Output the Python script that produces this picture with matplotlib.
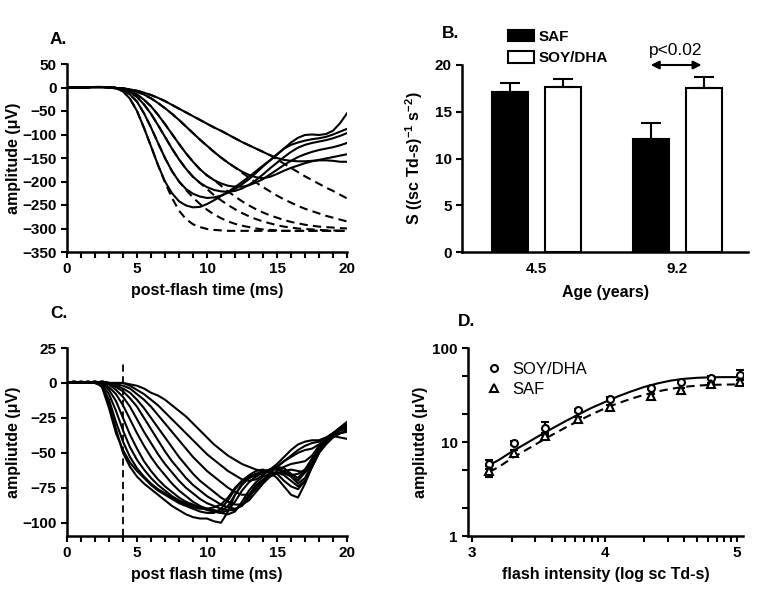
import numpy as np
import matplotlib
matplotlib.use("Agg")
import matplotlib.pyplot as plt
from matplotlib.patches import Patch
from matplotlib.lines import Line2D
from matplotlib.ticker import FixedLocator, FuncFormatter, NullFormatter

plt.rcParams['font.family'] = ['Liberation Sans', 'DejaVu Sans']
plt.rcParams['mathtext.fontset'] = 'custom'
plt.rcParams['mathtext.rm'] = 'Liberation Sans:bold'
plt.rcParams['mathtext.bf'] = 'Liberation Sans:bold'
plt.rcParams['mathtext.default'] = 'bf'

# panel A: a-wave traces (solid) and model fits (dashed)
tA = [0, 1, 2, 2.5] + list(np.arange(3.0, 20.01, 0.5))
base = [0, 0, 1, 1]
trace_A = [
    base + [0, -2, -8, -24, -50, -86, -125, -165, -200, -225, -242, -251, -255, -254, -248, -240, -231, -222, -212, -201,
            -190, -178, -166, -155, -143, -130, -117, -107, -101, -100, -101, -99, -92, -76, -55],
    base + [0, -1, -5, -15, -30, -55, -85, -118, -150, -178, -200, -216, -226, -232, -235, -234, -230, -224, -216, -206,
            -195, -182, -168, -155, -142, -130, -122, -117, -113, -110, -108, -105, -100, -94, -88],
    base + [0, -1, -4, -10, -20, -36, -56, -80, -105, -130, -153, -173, -190, -203, -212, -218, -221, -222, -220, -215,
            -207, -197, -185, -172, -160, -148, -137, -128, -122, -118, -115, -112, -108, -103, -97],
    base + [0, -1, -3, -8, -15, -26, -40, -58, -78, -99, -120, -140, -158, -174, -187, -197, -204, -209, -211, -211,
            -208, -202, -195, -185, -175, -165, -156, -148, -142, -137, -133, -130, -127, -123, -118],
    base + [0, -1, -2, -5, -9, -15, -23, -33, -44, -56, -69, -83, -97, -111, -124, -137, -149, -160, -170, -179,
            -186, -191, -193, -190, -184, -177, -171, -166, -161, -157, -154, -151, -148, -145, -142],
    base + [0, -1, -2, -4, -7, -11, -16, -22, -29, -37, -45, -53, -61, -69, -77, -85, -92, -100, -108, -116,
            -123, -130, -137, -144, -150, -154, -156, -157, -157, -156, -155, -155, -156, -158, -158],
]
model_A = [
    base + [0, -2, -8, -24, -50, -86, -125, -165, -202, -235, -262, -280, -291, -297, -301, -303, -304, -305, -305, -305,
            -305, -305, -305, -305, -305, -305, -305, -305, -305, -305, -305, -305, -305, -305, -305],
    base + [0, -1, -5, -15, -30, -55, -85, -118, -150, -178, -200, -218, -234, -248, -260, -270, -278, -285, -290, -294,
            -297, -300, -302, -303, -304, -305, -305, -305, -305, -305, -305, -305, -305, -305, -305],
    base + [0, -1, -4, -10, -20, -36, -56, -80, -105, -130, -153, -173, -190, -203, -216, -229, -240, -250, -259, -267,
            -274, -280, -285, -289, -293, -296, -298, -300, -301, -302, -303, -304, -304, -305, -305],
    base + [0, -1, -3, -8, -15, -26, -40, -58, -78, -99, -120, -140, -158, -174, -187, -197, -209, -221, -232, -242,
            -251, -259, -266, -272, -277, -282, -286, -289, -292, -294, -296, -297, -298, -299, -300],
    base + [0, -1, -2, -5, -9, -15, -23, -33, -44, -56, -69, -83, -97, -111, -124, -137, -149, -160, -170, -181,
            -192, -202, -212, -221, -230, -238, -245, -252, -258, -263, -268, -273, -277, -281, -285],
    base + [0, -1, -2, -4, -7, -11, -16, -22, -29, -37, -45, -53, -61, -69, -77, -85, -92, -100, -108, -116,
            -123, -130, -137, -144, -153, -162, -171, -180, -189, -197, -205, -213, -220, -228, -236],
]

# panel B: sensitivity by age and diet
ages = ['4.5', '9.2']
saf_S = [17.1, 12.1]
saf_S_err = [1.0, 1.7]
soy_S = [17.7, 17.5]
soy_S_err = [0.8, 1.2]

# panel C: traces
tC = list(np.arange(0, 20.01, 0.5))
trace_C = [
    [0, 1, 0, 0, 0, -2, -15, -33, -50, -60, -67, -72, -76, -80, -84, -88, -91, -94, -96, -97, -97, -99, -100, -92, -80,
     -72, -68, -66, -64, -62, -61, -63, -66, -70, -64, -56, -48, -40, -36, -32, -28],
    [0, 0, 0, 0, 1, -3, -18, -36, -48, -57, -63, -68, -73, -77, -80, -83, -86, -88, -90, -92, -93, -93, -90, -84, -76,
     -70, -66, -63, -62, -64, -68, -74, -80, -82, -72, -60, -50, -43, -38, -33, -30],
    [0, 1, 0, 0, 0, -2, -12, -28, -42, -53, -61, -67, -72, -76, -79, -82, -85, -87, -89, -90, -90, -89, -87, -82, -75,
     -70, -67, -65, -65, -62, -60, -61, -65, -68, -62, -54, -46, -41, -37, -34, -33],
    [0, 0, 1, 0, 0, -1, -8, -20, -34, -46, -55, -62, -68, -73, -77, -81, -84, -86, -88, -89, -90, -91, -92, -88, -80,
     -73, -68, -65, -63, -63, -65, -70, -74, -76, -70, -60, -50, -42, -38, -36, -35],
    [0, 0, 0, 1, 0, 0, -5, -13, -25, -37, -47, -56, -63, -69, -74, -78, -82, -85, -87, -89, -91, -92, -93, -91, -85,
     -77, -71, -67, -64, -62, -62, -64, -67, -72, -68, -58, -48, -42, -38, -36, -34],
    [0, 0, 0, 0, 1, 0, -3, -8, -16, -26, -36, -45, -53, -60, -66, -72, -77, -81, -85, -88, -90, -92, -93, -94, -92,
     -85, -77, -71, -67, -65, -64, -65, -66, -65, -62, -56, -47, -40, -36, -33, -31],
    [0, 1, 0, 0, 0, 0, -1, -5, -10, -17, -26, -35, -43, -51, -58, -64, -70, -75, -79, -83, -86, -88, -90, -91, -91,
     -87, -80, -73, -69, -66, -64, -66, -70, -74, -70, -60, -50, -44, -39, -36, -34],
    [0, 0, 0, 0, 0, 1, 0, -3, -6, -11, -17, -25, -33, -41, -49, -56, -62, -68, -73, -77, -81, -84, -87, -89, -90,
     -88, -82, -75, -70, -67, -65, -63, -62, -63, -64, -58, -48, -42, -37, -34, -32],
    [0, 0, 1, 0, 0, 1, 0, -2, -4, -7, -12, -18, -25, -32, -39, -46, -53, -59, -65, -70, -74, -78, -82, -85, -87,
     -87, -84, -78, -72, -67, -63, -60, -58, -57, -56, -52, -45, -40, -36, -33, -30],
    [0, 0, 0, 0, 1, 0, 0, -1, -2, -4, -8, -12, -17, -23, -29, -35, -41, -47, -53, -58, -63, -67, -71, -75, -78,
     -80, -80, -76, -70, -64, -60, -56, -53, -50, -48, -47, -44, -40, -36, -32, -28],
    [0, 0, 0, 1, 0, 0, 0, 0, 0, -2, -5, -8, -12, -16, -21, -26, -31, -36, -41, -46, -51, -55, -59, -63, -66,
     -69, -70, -69, -66, -62, -58, -53, -48, -44, -42, -41, -41, -39, -36, -33, -29],
    [0, 0, 0, 0, 0, 1, 0, 0, 0, -1, -2, -4, -7, -9, -12, -16, -20, -24, -29, -34, -39, -44, -48, -52, -55,
     -58, -60, -62, -63, -62, -60, -56, -52, -48, -45, -43, -42, -40, -38, -39, -40],
]
flash_marker = 4

# panel D: intensity-response
logI = [3.13, 3.32, 3.55, 3.80, 4.04, 4.35, 4.58, 4.80, 5.02]
soy_amp = [5.8, 9.8, 14.2, 21.7, 29, 38, 44, 48.5, 52]
soy_err = [0.6, 0.5, 2.3, 1.0, 1.2, 1.5, 1.5, 1.5, 6]
saf_amp = [4.9, 7.7, 11.6, 17.4, 23.6, 31, 36, 41, 43.5]
saf_err = [0.7, 0.5, 0.8, 1.0, 1.2, 1.5, 2.0, 1.5, 2.5]
fit_logI = [3.13, 3.2, 3.3, 3.4, 3.5, 3.6, 3.7, 3.8, 3.9, 4.0, 4.1, 4.2, 4.3, 4.4, 4.5, 4.6, 4.7, 4.8, 4.9, 5.02]
soy_fit = [5.7, 6.4, 7.9, 9.5, 11.5, 13.8, 16.5, 19.5, 23, 26.5, 30.5, 34.5, 38.5, 42, 45, 47, 48.2, 48.8, 49, 49]
saf_fit = [4.8, 5.4, 6.7, 8.1, 9.8, 11.8, 14.1, 16.7, 19.6, 22.7, 25.8, 28.8, 31.8, 34.5, 36.8, 38.6, 39.8, 40.5, 40.8, 41]

W, H = 772, 592
fig = plt.figure(figsize=(W / 100, H / 100), dpi=100)

def box(l, t, r, b):
    return [l / W, 1 - b / H, (r - l) / W, (b - t) / H]

def style(ax):
    for s in ['top', 'right']:
        ax.spines[s].set_visible(False)
    for s in ['left', 'bottom']:
        ax.spines[s].set_linewidth(1.8)
    ax.tick_params(which='both', direction='out', width=1.5, length=4, labelsize=11)
    for lab in ax.get_xticklabels() + ax.get_yticklabels():
        lab.set_fontweight('bold')

lw = 1.5
lab_kw = dict(fontsize=11.5, fontweight='bold')

# A
axA = fig.add_axes(box(67, 64, 347, 252))
for y in trace_A:
    axA.plot(tA, y, color='black', lw=lw)
for y in model_A:
    axA.plot(tA, y, color='black', lw=lw, ls=(0, (4, 2.5)))
axA.set_xlim(0, 20)
axA.set_ylim(-350, 50)
axA.set_xticks([0, 5, 10, 15, 20])
axA.set_xticks(range(0, 21), minor=True)
axA.set_yticks(range(-350, 51, 50))
axA.set_xlabel('post-flash time (ms)', labelpad=5, **lab_kw)
axA.set_ylabel('amplitude (μV)', labelpad=1, **lab_kw)
style(axA)

# B
axB = fig.add_axes(box(462, 65, 748, 252))
xpos = np.arange(len(ages))
bw = 0.255
off = 0.188
axB.bar(xpos - off, saf_S, bw, color='black', edgecolor='black', lw=1.5, label='SAF')
axB.bar(xpos + off, soy_S, bw, color='white', edgecolor='black', lw=1.5, label='SOY/DHA')
axB.errorbar(xpos - off, saf_S, yerr=[np.zeros(2), saf_S_err], fmt='none', ecolor='black',
             elinewidth=1.5, capsize=7, capthick=1.5)
axB.errorbar(xpos + off, soy_S, yerr=[np.zeros(2), soy_S_err], fmt='none', ecolor='black',
             elinewidth=1.5, capsize=7, capthick=1.5)
axB.set_xlim(-0.53, 1.5)
axB.set_ylim(0, 20)
axB.set_xticks(xpos)
axB.set_xticklabels(ages)
axB.set_yticks(range(0, 21, 5))
axB.set_xlabel('Age (years)', labelpad=7, **lab_kw)
axB.set_ylabel(r'S ((sc Td-s)$^{-1}$ s$^{-2}$)', labelpad=7, **lab_kw)
style(axB)
axB.tick_params(axis='x', length=0, pad=7)
axB.annotate('', xy=(0.79, 20), xytext=(1.19, 20), annotation_clip=False,
             arrowprops=dict(arrowstyle='<|-|>', color='black', lw=1.5, mutation_scale=12))
axB.text(0.99, 21.5, 'p<0.02', ha='center', va='center', fontsize=12.5, clip_on=False)
axB.legend(handles=[Patch(facecolor='black', edgecolor='black', lw=1.5, label='SAF'),
                    Patch(facecolor='white', edgecolor='black', lw=1.5, label='SOY/DHA')],
           loc='upper left', bbox_to_anchor=(497 / W, 1 - 19 / H), bbox_transform=fig.transFigure,
           frameon=False, handlelength=1.75, handleheight=0.75, handletextpad=0.25,
           labelspacing=0.5, borderpad=0.2, prop=dict(size=11, weight='bold'))

# C
axC = fig.add_axes(box(67, 348, 347, 536))
for y in trace_C:
    axC.plot(tC, y, color='black', lw=lw)
axC.set_xlim(0, 20)
axC.set_ylim(-109.5, 25)
axC.vlines(flash_marker, -109.5, 14, colors='black', lw=1.3, linestyles=(0, (4, 2.5)))
axC.set_xticks([0, 5, 10, 15, 20])
axC.set_xticks(range(0, 21), minor=True)
axC.set_yticks([25, 0, -25, -50, -75, -100])
axC.set_xlabel('post flash time (ms)', labelpad=5, **lab_kw)
axC.set_ylabel('ampliutde (μV)', labelpad=1, **lab_kw)
style(axC)

# D
axD = fig.add_axes(box(468, 348, 743, 536))
xI = 10 ** np.array(logI)
xF = 10 ** np.array(fit_logI)
axD.plot(xF, soy_fit, color='black', lw=lw)
axD.plot(xF, saf_fit, color='black', lw=lw, ls=(0, (4, 2.5)))
axD.errorbar(xI, soy_amp, yerr=soy_err, fmt='o', ms=5, mfc='white', mec='black', mew=1.5,
             ecolor='black', elinewidth=1.5, capsize=3, capthick=1.5)
axD.errorbar(xI, saf_amp, yerr=saf_err, fmt='^', ms=5.5, mfc='white', mec='black', mew=1.5,
             ecolor='black', elinewidth=1.5, capsize=3, capthick=1.5)
axD.set_xscale('log')
axD.set_yscale('log')
axD.set_xlim(10 ** 2.97, 10 ** 5.045)
axD.set_ylim(1, 100)
axD.xaxis.set_major_locator(FixedLocator([1e3, 1e4, 1e5]))
axD.xaxis.set_major_formatter(FuncFormatter(lambda v, p: '%d' % round(np.log10(v))))
axD.xaxis.set_minor_locator(FixedLocator([k * 10 ** e for e in (3, 4) for k in range(2, 10)]))
axD.xaxis.set_minor_formatter(NullFormatter())
axD.yaxis.set_major_locator(FixedLocator([1, 10, 100]))
axD.yaxis.set_major_formatter(FuncFormatter(lambda v, p: '%g' % v))
axD.yaxis.set_minor_locator(FixedLocator([2, 5, 20, 50]))
axD.yaxis.set_minor_formatter(NullFormatter())
axD.set_xlabel('flash intensity (log sc Td-s)', labelpad=5, **lab_kw)
axD.set_ylabel('ampliutde (μV)', labelpad=3, **lab_kw)
style(axD)
axD.legend(handles=[Line2D([], [], ls='none', marker='o', ms=5, mfc='white', mec='black', mew=1.5, label='SOY/DHA'),
                    Line2D([], [], ls='none', marker='^', ms=5.5, mfc='white', mec='black', mew=1.5, label='SAF')],
           loc='upper left', bbox_to_anchor=(474 / W, 1 - 350 / H), bbox_transform=fig.transFigure,
           frameon=False, handlelength=1.0, handletextpad=0.6, labelspacing=0.3, borderpad=0.2,
           prop=dict(size=12))

for txt, x, y in [('A.', 50, 39), ('B.', 442, 34), ('C.', 50, 314), ('D.', 458, 321)]:
    fig.text(x / W, 1 - y / H, txt, fontsize=12.5, fontweight='bold', va='center', ha='left')

fig.savefig('out.png', dpi=100)
